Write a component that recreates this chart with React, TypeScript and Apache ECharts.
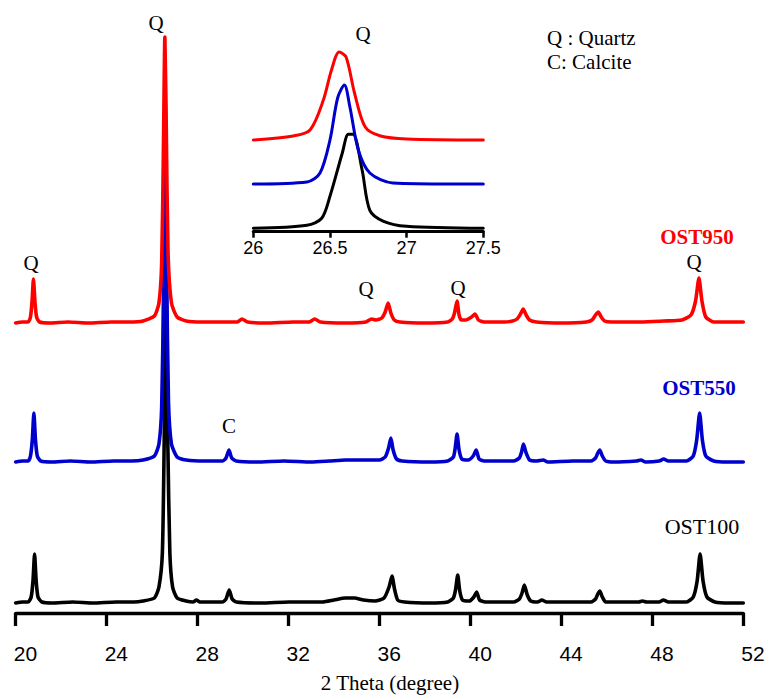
import React, { useEffect, useRef } from "react";
import * as echarts from "echarts";

// ---- Main pattern data: [2θ (degree), intensity above own baseline] ----
const OST950: [number, number][] = [
  [20.0, 0], [20.3, 1], [20.55, 1], [20.65, 6], [20.72, 22], [20.78, 44], [20.85, 20], [20.92, 6], [21.05, 1],
  [21.5, 0], [22.3, 1], [23.2, 0], [24.2, 1], [25.0, 1], [25.6, 2], [26.1, 7], [26.3, 20], [26.42, 60],
  [26.5, 180], [26.56, 286], [26.62, 200], [26.7, 70], [26.85, 20], [27.1, 6], [27.5, 2], [28.2, 1], [29.0, 1],
  [29.75, 1], [29.95, 4], [30.2, 1], [31.0, 0], [32.2, 1], [32.9, 1], [33.15, 4], [33.4, 1], [34.5, 0],
  [35.4, 1], [35.65, 4], [35.85, 3], [36.1, 5], [36.25, 11], [36.38, 20], [36.5, 10], [36.65, 3], [36.9, 1],
  [38.0, 0], [39.0, 1], [39.2, 4], [39.3, 10], [39.41, 22], [39.5, 8], [39.6, 3], [39.8, 3], [40.05, 6],
  [40.2, 9], [40.35, 3], [40.6, 1], [41.5, 1], [41.85, 2], [42.05, 4], [42.2, 9], [42.32, 14], [42.45, 8],
  [42.6, 3], [42.9, 1], [44.0, 0], [45.1, 1], [45.35, 3], [45.5, 8], [45.62, 11], [45.75, 6], [45.9, 2],
  [46.2, 1], [47.5, 1], [48.5, 2], [49.3, 3], [49.7, 8], [49.9, 22], [50.05, 45], [50.18, 22], [50.35, 6],
  [50.7, 1], [51.3, 1], [52.0, 1],
];

const OST550: [number, number][] = [
  [20.0, 0], [20.3, 1], [20.55, 1], [20.65, 6], [20.73, 22], [20.8, 49], [20.87, 22], [20.95, 6], [21.1, 1],
  [21.6, 0], [22.4, 1], [23.3, 0], [24.3, 1], [25.1, 1], [25.6, 2], [26.1, 6], [26.3, 18], [26.42, 55],
  [26.5, 170], [26.57, 390], [26.64, 190], [26.72, 60], [26.85, 18], [27.1, 5], [27.5, 2], [28.3, 1],
  [29.1, 1], [29.25, 4], [29.38, 12], [29.5, 4], [29.7, 1], [30.6, 0], [31.8, 1], [33.0, 0], [33.8, 1],
  [34.5, 2], [35.5, 2], [36.0, 2], [36.25, 5], [36.4, 14], [36.5, 24], [36.6, 12], [36.75, 3], [37.0, 1],
  [38.2, 0], [39.0, 1], [39.25, 5], [39.33, 14], [39.41, 28], [39.5, 12], [39.62, 3], [39.9, 2], [40.12, 6],
  [40.25, 12], [40.38, 3], [40.6, 1], [41.9, 1], [42.15, 4], [42.25, 10], [42.33, 18], [42.45, 9], [42.6, 2],
  [42.9, 1], [43.2, 2], [43.4, 0], [44.5, 1], [45.3, 1], [45.5, 4], [45.6, 9], [45.69, 12], [45.8, 6],
  [45.95, 1], [46.3, 0], [47.3, 1], [47.5, 2], [47.7, 0], [48.3, 1], [48.5, 3], [48.7, 1], [49.5, 1],
  [49.8, 6], [49.95, 22], [50.08, 49], [50.2, 22], [50.35, 6], [50.7, 1], [51.3, 0], [52.0, 0],
];

const OST100: [number, number][] = [
  [20.0, 0], [20.3, 1], [20.55, 1], [20.68, 6], [20.76, 22], [20.83, 49], [20.9, 22], [20.98, 6], [21.15, 1],
  [21.6, 0], [22.5, 1], [23.4, 0], [24.4, 1], [25.2, 1], [25.6, 2], [26.1, 5], [26.3, 16], [26.45, 50],
  [26.53, 160], [26.61, 330], [26.69, 160], [26.78, 50], [26.9, 16], [27.1, 5], [27.5, 2], [27.8, 1],
  [27.95, 3], [28.1, 1], [29.1, 1], [29.25, 4], [29.39, 13], [29.52, 4], [29.7, 1], [30.8, 0], [32.0, 1],
  [33.5, 1], [34.0, 3], [34.5, 5], [34.9, 5], [35.3, 3], [35.8, 2], [36.2, 5], [36.42, 16], [36.55, 27],
  [36.66, 14], [36.8, 3], [37.1, 1], [38.2, 0], [39.0, 1], [39.25, 5], [39.35, 14], [39.44, 28], [39.53, 12],
  [39.65, 3], [39.95, 2], [40.15, 6], [40.27, 11], [40.4, 3], [40.65, 1], [41.9, 1], [42.15, 4], [42.27, 10],
  [42.37, 18], [42.5, 8], [42.65, 2], [42.95, 1], [43.14, 3], [43.35, 1], [44.5, 1], [45.3, 1], [45.5, 4],
  [45.6, 9], [45.69, 12], [45.8, 6], [45.95, 1], [46.3, 1], [47.4, 1], [47.56, 2], [47.75, 1], [48.3, 1],
  [48.48, 3], [48.7, 1], [49.5, 1], [49.8, 6], [49.97, 22], [50.1, 49], [50.23, 22], [50.4, 6], [50.75, 1],
  [51.4, 0], [52.0, 0],
];

// vertical stacking offsets (arbitrary intensity units)
const MAIN_OFFSETS = { OST100: 10, OST550: 151, OST950: 290 };

// ---- Inset (zoom of the Q peak near 26.6°) ----
const INSET_950: [number, number][] = [
  [26.0, 0], [26.26, 4], [26.37, 10], [26.457, 40], [26.51, 70], [26.56, 88], [26.605, 83], [26.66, 47],
  [26.73, 13], [26.83, 4], [27.0, 1], [27.5, 0],
];
const INSET_550: [number, number][] = [
  [26.0, 0], [26.35, 2], [26.435, 11], [26.5, 44], [26.55, 86], [26.594, 99], [26.63, 77], [26.685, 34],
  [26.76, 11], [26.91, 1], [27.3, 0], [27.5, 0],
];
const INSET_100: [number, number][] = [
  [26.0, 0], [26.35, 3], [26.446, 10], [26.5, 32], [26.58, 75], [26.62, 94], [26.65, 94], [26.71, 58],
  [26.76, 18], [26.85, 7], [27.0, 2], [27.5, 0],
];
const INSET_OFFSETS = { OST100: 3.4, OST550: 47.7, OST950: 91.7 };

const MAIN_TICKS = { min: 20, max: 52, interval: 4 };
const INSET_TICKS = { min: 26, max: 27.5, interval: 0.5 };

const shift = (arr: [number, number][], off: number) => arr.map(([x, y]) => [x, y + off]);

const SERIF = "'Liberation Serif', 'Times New Roman', serif";
const SANS = "'Liberation Sans', Arial, sans-serif";

export default function App() {
  const ref = useRef<HTMLDivElement>(null);

  useEffect(() => {
    document.body.style.margin = "0";
    if (!ref.current) return;
    const chart = echarts.init(ref.current, undefined, { renderer: "svg" });

    const lineSeries = (name: string, data: number[][], color: string, width: number, axis: number, z: number, smooth: number) => ({
      name,
      type: "line",
      data,
      xAxisIndex: axis,
      yAxisIndex: axis,
      showSymbol: false,
      symbol: "none",
      smooth,
      z,
      lineStyle: { color, width, join: "round", cap: "round" },
      itemStyle: { color },
      emphasis: { disabled: true },
    });

    const txt = (text: string, x: number, y: number, size: number, opts: any = {}) => ({
      type: "text",
      x,
      y,
      z: 100,
      style: {
        text,
        fill: opts.fill || "#000",
        fontSize: size,
        fontFamily: opts.family || SERIF,
        fontWeight: opts.weight || "normal",
        align: opts.align || "center",
        verticalAlign: "middle",
        textAlign: opts.align || "center",
        textVerticalAlign: "middle",
      },
    });

    chart.setOption({
      animation: false,
      grid: [
        { left: 15.7, right: 25.7, top: 13, bottom: 82, containLabel: false, outerBoundsMode: "none" },
        { left: 253.3, right: 285.7, top: 31.7, bottom: 463.3, containLabel: false, outerBoundsMode: "none" },
      ],
      xAxis: [
        {
          type: "value",
          gridIndex: 0,
          min: MAIN_TICKS.min,
          max: MAIN_TICKS.max,
          interval: MAIN_TICKS.interval,
          axisLine: { show: true, onZero: false, lineStyle: { color: "#000", width: 3.3 } },
          axisTick: { show: true, inside: false, length: 13, lineStyle: { color: "#000", width: 3.3 } },
          axisLabel: { color: "#000", fontSize: 21, fontFamily: SANS, margin: 30, align: "left", padding: [0, 0, 0, -2] },
          splitLine: { show: false },
        },
        {
          type: "value",
          gridIndex: 1,
          min: INSET_TICKS.min,
          max: INSET_TICKS.max,
          interval: INSET_TICKS.interval,
          axisLine: { show: true, onZero: false, lineStyle: { color: "#000", width: 3 } },
          axisTick: { show: true, inside: false, length: 6, lineStyle: { color: "#000", width: 2.5 } },
          axisLabel: { color: "#000", fontSize: 18, fontFamily: SANS, margin: 7 },
          splitLine: { show: false },
        },
      ],
      yAxis: [
        { type: "value", gridIndex: 0, min: 0, max: 600, show: false, splitLine: { show: false } },
        { type: "value", gridIndex: 1, min: 0, max: 200, show: false, splitLine: { show: false } },
      ],
      series: [
        lineSeries("OST100", shift(OST100, MAIN_OFFSETS.OST100), "#000000", 3.6, 0, 2, 0.2),
        lineSeries("OST550", shift(OST550, MAIN_OFFSETS.OST550), "#0000CC", 3.6, 0, 3, 0.2),
        lineSeries("OST950", shift(OST950, MAIN_OFFSETS.OST950), "#FF0000", 3.6, 0, 4, 0.2),
        lineSeries("OST100 inset", shift(INSET_100, INSET_OFFSETS.OST100), "#000000", 3, 1, 2, 0.3),
        lineSeries("OST550 inset", shift(INSET_550, INSET_OFFSETS.OST550), "#0000CC", 3, 1, 3, 0.3),
        lineSeries("OST950 inset", shift(INSET_950, INSET_OFFSETS.OST950), "#FF0000", 3, 1, 4, 0.3),
      ],
      graphic: [
        txt("Q", 156, 23, 21),
        txt("Q", 363, 34, 21),
        txt("Q : Quartz", 547, 38, 21, { align: "left" }),
        txt("C: Calcite", 547, 62, 21, { align: "left" }),
        txt("OST950", 697, 237, 21, { fill: "#FF0000", weight: "bold" }),
        txt("Q", 31, 263, 21),
        txt("Q", 366, 289, 21),
        txt("Q", 458, 288, 21),
        txt("Q", 694, 262, 21),
        txt("OST550", 699, 388, 21, { fill: "#0000CC", weight: "bold" }),
        txt("C", 229, 426, 21),
        txt("OST100", 702, 526, 22),
        txt("2 Theta (degree)", 390, 683, 21),
      ],
    });

    return () => chart.dispose();
  }, []);

  return <div ref={ref} style={{ width: 769, height: 695 }} />;
}
